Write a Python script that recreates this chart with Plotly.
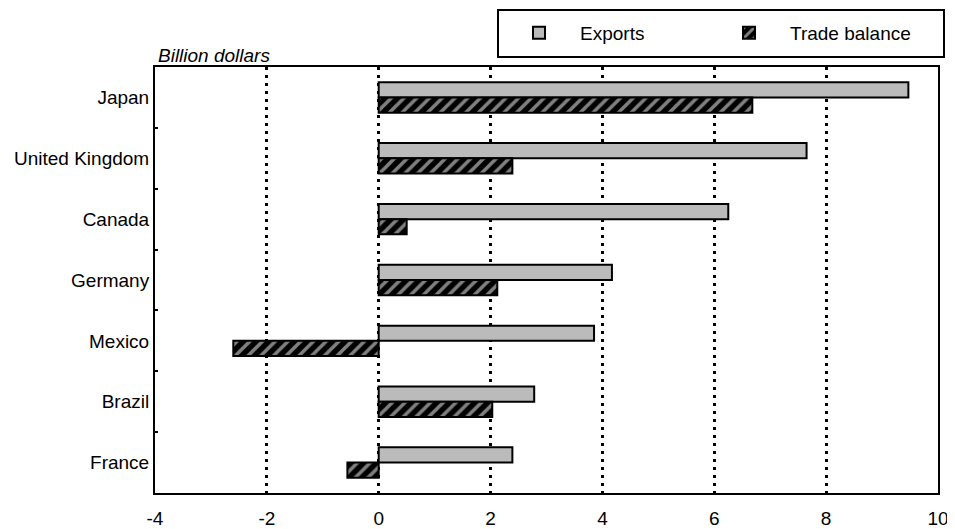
import plotly.graph_objects as go

countries = ["Japan", "United Kingdom", "Canada", "Germany", "Mexico", "Brazil", "France"]
exports = [9.47, 7.65, 6.25, 4.17, 3.85, 2.78, 2.39]
trade_balance = [6.68, 2.39, 0.50, 2.12, -2.60, 2.03, -0.56]
x_ticks = [-4, -2, 0, 2, 4, 6, 8, 10]

FONT = "Liberation Sans, Arial, sans-serif"
OFF = 8  # page body margin
W, H = 955 - OFF, 529 - OFF
L, T = 155 - OFF, 67 - OFF
R = W - (938 - OFF)
B = H - (493 - OFF)
pw, ph = W - L - R, H - T - B


def px_x(x):
    return (x - OFF - L) / pw


def px_y(y):
    return (H - B - (y - OFF)) / ph


fig = go.Figure()
fig.add_trace(go.Bar(
    y=countries, x=exports, orientation="h", name="Exports",
    marker=dict(color="#bbbbbb", line=dict(color="black", width=2)),
))
fig.add_trace(go.Bar(
    y=countries, x=trade_balance, orientation="h", name="Trade balance",
    marker=dict(color="black", line=dict(color="black", width=2),
                pattern=dict(shape="/", bgcolor="black", fgcolor="white", size=9, solidity=0.4)),
))

fig.update_layout(
    width=W, height=H,
    margin=dict(l=L, r=R, t=T, b=B, autoexpand=False),
    paper_bgcolor="white", plot_bgcolor="white",
    font=dict(family=FONT, size=19, color="black"),
    barmode="group", bargap=0.5, bargroupgap=0,
    showlegend=True,
    legend=dict(
        orientation="h", xref="container", yref="container",
        x=(498 - OFF) / W, y=1 - (33 - OFF) / H, xanchor="left", yanchor="middle",
        borderwidth=0, bgcolor="rgba(0,0,0,0)",
        font=dict(size=19), itemwidth=72, entrywidth=123,
    ),
    shapes=[dict(
        type="rect", xref="paper", yref="paper",
        x0=px_x(498), x1=px_x(944), y0=px_y(57), y1=px_y(10),
        line=dict(color="black", width=2), fillcolor="rgba(0,0,0,0)", layer="above",
    )],
    annotations=[dict(
        text="<i>Billion dollars</i>", x=px_x(156), y=1.0, xref="paper", yref="paper",
        xanchor="left", yanchor="bottom", showarrow=False, font=dict(size=19),
        yshift=-1,
    )],
)
fig.update_xaxes(
    range=[-4, 10], tickvals=x_ticks, ticktext=[str(v) for v in x_ticks],
    showgrid=True, gridcolor="black", griddash="3px,5px", gridwidth=3,
    showline=True, linecolor="black", linewidth=2, mirror=True,
    zeroline=False, ticks="", ticklabelstandoff=7,
)
fig.update_yaxes(
    categoryorder="array", categoryarray=countries, autorange="reversed",
    showline=True, linecolor="black", linewidth=2, mirror=True,
    ticks="inside", tickson="boundaries", ticklen=3, tickwidth=2, tickcolor="black",
    showgrid=False,
)
fig.write_html("out.html")
